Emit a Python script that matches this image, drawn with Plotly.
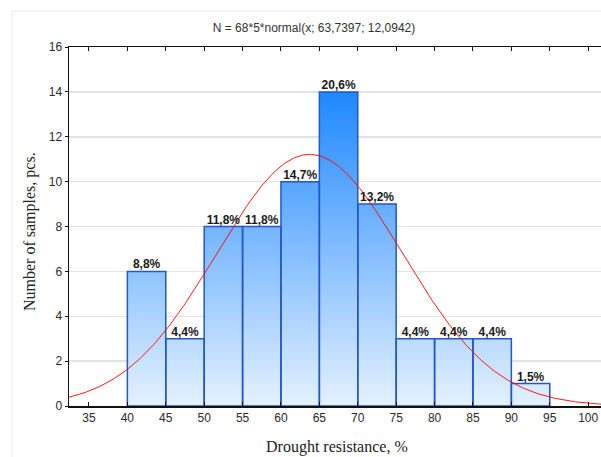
import numpy as np
import plotly.graph_objects as go

# ---- data ----
bin_left = [40, 45, 50, 55, 60, 65, 70, 75, 80, 85, 90]
bin_width = 5
counts = [6, 3, 8, 8, 10, 14, 9, 3, 3, 3, 1]
pct_labels = ["8,8%", "4,4%", "11,8%", "11,8%", "14,7%", "20,6%", "13,2%",
              "4,4%", "4,4%", "4,4%", "1,5%"]
n_total = 68
fit_mean = 63.7397
fit_sd = 12.0942
x_ticks = list(range(35, 101, 5))
y_ticks = list(range(0, 17, 2))
title_text = "N = 68*5*normal(x; 63,7397; 12,0942)"

X_RANGE = [32.4, 101.67]
Y_RANGE = [0, 16]

fig = go.Figure()

# bars as polygons with vertical gradient (shared absolute scale)
bx, by = [], []
for l, c in zip(bin_left, counts):
    bx += [l, l, l + bin_width, l + bin_width, l, None]
    by += [0, c, c, 0, 0, None]
fig.add_trace(go.Scatter(
    x=bx, y=by, mode="lines", fill="toself",
    line=dict(color="#2456c8", width=1.5),
    fillgradient=dict(type="vertical",
                      colorscale=[[0, "#e4f1ff"], [1, "#1e88ff"]],
                      start=0, stop=max(counts)),
    hoverinfo="skip", showlegend=False,
))

# fitted normal curve
xs = np.linspace(X_RANGE[0], X_RANGE[1], 400)
ys = n_total * bin_width * np.exp(-0.5 * ((xs - fit_mean) / fit_sd) ** 2) / (fit_sd * np.sqrt(2 * np.pi))
fig.add_trace(go.Scatter(x=xs, y=ys, mode="lines",
                         line=dict(color="rgba(255,0,0,0.9)", width=1),
                         hoverinfo="skip", showlegend=False))

# percentage labels
fig.add_trace(go.Scatter(
    x=[l + bin_width / 2 for l in bin_left], y=counts, mode="text",
    text=["<b>%s</b>" % t for t in pct_labels], textposition="top center",
    textfont=dict(family="Liberation Sans, Arial", size=12, color="#1a1a1a"),
    hoverinfo="skip", showlegend=False, cliponaxis=False,
))

tickfont = dict(family="Liberation Sans, Arial", size=12, color="#2a2a2a")

fig.update_layout(
    width=601, height=457,
    margin=dict(l=69, r=0, t=47, b=51),
    paper_bgcolor="white", plot_bgcolor="white",
    hovermode=False,
    title=dict(text=title_text, x=314 / 601, xanchor="center", xref="container",
               y=1 - 28 / 457, yanchor="middle", yref="container",
               font=dict(family="Liberation Sans, Arial", size=12, color="#333")),
    xaxis=dict(range=X_RANGE, tickvals=x_ticks, showgrid=False, zeroline=False,
               showline=True, linecolor="#111", linewidth=1.5, mirror="ticks",
               ticks="inside", ticklen=4, tickcolor="#111", tickfont=tickfont),
    yaxis=dict(range=Y_RANGE, tickvals=y_ticks, showgrid=True, gridcolor="#e3e3e3",
               gridwidth=1.5, zeroline=False,
               showline=True, linecolor="#111", linewidth=1.5,
               ticks="outside", ticklen=3, tickcolor="#111", tickfont=tickfont),
    annotations=[
        dict(text="Number of samples, pcs.", xref="paper", yref="paper",
             x=(30 - 69) / 532, y=(406 - 232) / 359, textangle=-90, showarrow=False,
             xanchor="center", yanchor="middle",
             font=dict(family="Liberation Serif, Times New Roman", size=16, color="#222")),
        dict(text="Drought resistance, %", xref="paper", yref="paper",
             x=(337 - 69) / 532, y=(406 - 447) / 359, showarrow=False,
             xanchor="center", yanchor="middle",
             font=dict(family="Liberation Serif, Times New Roman", size=16, color="#222")),
    ],
    shapes=[dict(type="rect", xref="paper", yref="paper",
                 x0=(12 - 69) / 532, y0=-0.3, x1=1.1, y1=(406 - 11) / 359,
                 line=dict(color="#e6e6e6", width=1), layer="below")],
)

fig.write_html("out.html",
               config={"displayModeBar": False, "staticPlot": True},
               post_script="document.body.style.margin='0';document.body.style.padding='0';")
